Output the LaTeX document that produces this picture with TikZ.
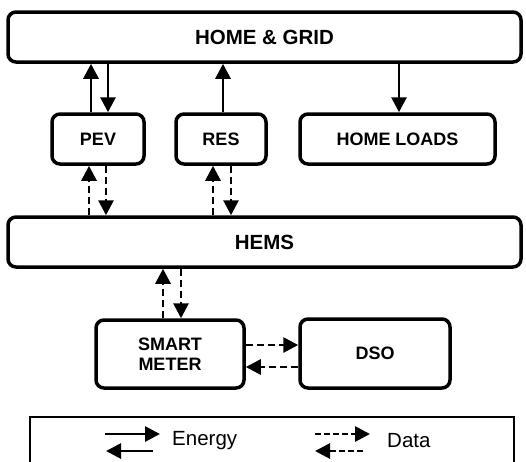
\documentclass[tikz,border=0pt]{standalone}
\usepackage{fontspec}
\setmainfont{Liberation Sans}
\usetikzlibrary{arrows.meta,calc}
\begin{document}
\begin{tikzpicture}[x=1pt,y=-1pt,
  box/.style={draw,line width=3.5pt,rounded corners=8pt,inner sep=0pt,align=center,font=\fontsize{18}{20}\selectfont\bfseries},
  bigbox/.style={box,font=\fontsize{20.5}{22}\selectfont\bfseries},
  energy/.style={line width=2.8pt,-{Triangle[length=15pt,width=15pt]}},
  data/.style={energy,dash pattern=on 7pt off 4pt},
  legtext/.style={font=\fontsize{20.5}{22}\selectfont,anchor=west,inner sep=0pt}]
\useasboundingbox (0,0) rectangle (526,461);
\node[bigbox,minimum width=513pt,minimum height=50pt] (hg) at (264.5,37) {HOME \& GRID};
\node[box,minimum width=92pt,minimum height=50pt] (pev) at (98,139) {PEV};
\node[box,minimum width=90pt,minimum height=50pt] (res) at (221,139) {RES};
\node[box,minimum width=195pt,minimum height=50pt] (loads) at (397.5,139) {HOME LOADS};
\node[bigbox,minimum width=513pt,minimum height=50pt] (hems) at (264.5,242) {HEMS};
\node[box,minimum width=148pt,minimum height=68pt] (sm) at (170,354) {SMART\\METER};
\node[box,minimum width=150pt,minimum height=69pt] (dso) at (375,353.5) {DSO};
% energy
\draw[energy] ([xshift=-7pt]pev.north) -- ([xshift=-7pt]pev.north |- hg.south);
\draw[energy] ([xshift=10pt]pev.north |- hg.south) -- ([xshift=10pt]pev.north);
\draw[energy] ([xshift=2pt]res.north) -- ([xshift=2pt]res.north |- hg.south);
\draw[energy] ([xshift=1.5pt]loads.north |- hg.south) -- ([xshift=1.5pt]loads.north);
% data
\draw[data] ([xshift=-9pt]pev.south |- hems.north) -- ([xshift=-9pt]pev.south);
\draw[data] ([xshift=8pt]pev.south) -- ([xshift=8pt]pev.south |- hems.north);
\draw[data] ([xshift=-8pt]res.south |- hems.north) -- ([xshift=-8pt]res.south);
\draw[data] ([xshift=10pt]res.south) -- ([xshift=10pt]res.south |- hems.north);
\draw[data] ([xshift=-7pt]sm.north) -- ([xshift=-7pt]sm.north |- hems.south);
\draw[data] ([xshift=11pt]sm.north |- hems.south) -- ([xshift=11pt]sm.north);
\draw[data] ([yshift=9pt]sm.east) -- ([yshift=9pt]sm.east -| dso.west);
\draw[data] ([yshift=-13pt]sm.east -| dso.west) -- ([yshift=-13pt]sm.east);
% legend
\draw[line width=1.8pt] (30,470) -- (30,417) -- (514,417) -- (514,470);
\coordinate (e1a) at (105,434); \coordinate (e1b) at (160,434);
\coordinate (e2a) at (153,451); \coordinate (e2b) at (106,451);
\coordinate (d1a) at (315,434); \coordinate (d1b) at (370,434);
\coordinate (d2a) at (363,451); \coordinate (d2b) at (315,451);
\draw[energy] (e1a) -- (e1b);
\draw[energy] (e2a) -- (e2b);
\draw[data,dash pattern=on 6pt off 3pt] (d1a) -- (d1b);
\draw[data,dash pattern=on 6pt off 3pt] (d2a) -- (d2b);
\node[legtext] (le) at (172,441) {Energy};
\node[legtext] (ld) at (387,441) {Data};
\end{tikzpicture}
\end{document}
